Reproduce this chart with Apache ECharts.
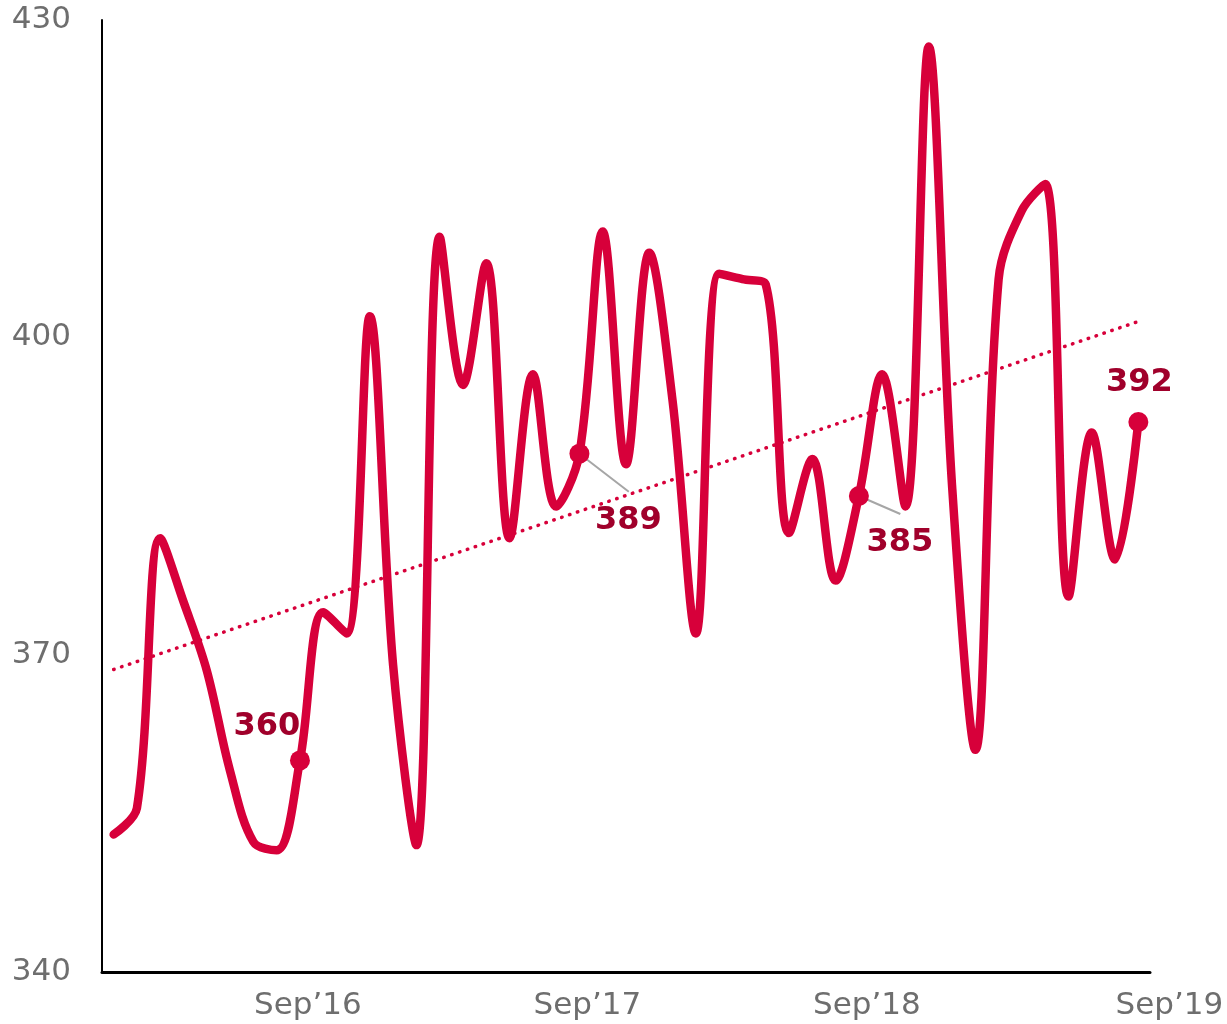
<!DOCTYPE html>
<html>
<head>
<meta charset="utf-8">
<script src="https://cdn.jsdelivr.net/npm/echarts@6/dist/echarts.min.js"></script>
<style>html,body{margin:0;padding:0;background:#fff}#c{width:1227px;height:1024px}</style>
</head>
<body>
<div id="c"></div>
<script>
const categories = [
  'Jan’16','Feb’16','Mar’16','Apr’16','May’16','Jun’16','Jul’16','Aug’16','Sep’16','Oct’16','Nov’16','Dec’16',
  'Jan’17','Feb’17','Mar’17','Apr’17','May’17','Jun’17','Jul’17','Aug’17','Sep’17','Oct’17','Nov’17','Dec’17',
  'Jan’18','Feb’18','Mar’18','Apr’18','May’18','Jun’18','Jul’18','Aug’18','Sep’18','Oct’18','Nov’18','Dec’18',
  'Jan’19','Feb’19','Mar’19','Apr’19','May’19','Jun’19','Jul’19','Aug’19','Sep’19'
];
const values = [
  353, 355.5, 381, 375, 368.5, 359, 352.3, 351.5, 360, 374, 372, 402,
  369, 352, 409.5, 395.5, 407, 381, 396.5, 384, 389, 410, 388, 408,
  394, 372, 406, 405.5, 405, 381.5, 388.5, 377, 385, 396.5, 384, 427.5,
  386, 361, 405.5, 412, 414.5, 375.5, 391, 379, 392
];
const annotatedIdx = [8, 20, 32, 44];
const trendStart = 368.6;
const trendEnd = 401.5;
const yTicks = [340, 370, 400, 430];
// leader lines for the 389 and 385 callouts: [fromIndex, fromValue] -> [toIndex, toValue]
const leaders = [
  [[20, 389], [22.12, 385.4]],
  [[32, 385], [33.78, 383.3]]
];

const LINE = '#D7003A';
const LABEL = '#A0002B';
const GREY = '#6E6E6E';
const FONT = 'DejaVu Sans';

const labelShift = {8: [-33, -34], 20: [49, 67], 32: [41, 47], 44: [1, -39]};

const mainData = values.map((v, i) => {
  if (annotatedIdx.indexOf(i) >= 0) {
    return {value: v, symbol: 'circle', symbolSize: 20, label: {show: true}};
  }
  return v;
});

const leaderData = [];
leaders.forEach((seg, k) => {
  if (k > 0) leaderData.push('-');
  leaderData.push(seg[0], seg[1]);
});

const chart = echarts.init(document.getElementById('c'), null, {renderer: 'canvas'});
chart.setOption({
  animation: false,
  backgroundColor: '#fff',
  grid: {left: 102, right: 77, top: 20, bottom: 52},
  xAxis: [{
    type: 'category',
    data: categories,
    boundaryGap: true,
    axisLine: {show: true, onZero: false, lineStyle: {color: '#000', width: 3}},
    axisTick: {show: false},
    splitLine: {show: false},
    axisLabel: {
      interval: (i, v) => v.indexOf('Sep') === 0,
      margin: 18,
      color: GREY,
      fontFamily: FONT,
      fontSize: 31,
      formatter: v => (v === 'Sep’19' ? '{b|' + v + '}' : '{a|' + v + '}'),
      rich: {
        a: {padding: [0, 0, 0, 16], color: GREY, fontFamily: FONT, fontSize: 31},
        b: {padding: [0, 0, 0, 62], color: GREY, fontFamily: FONT, fontSize: 31}
      }
    }
  }, {
    type: 'value',
    show: false,
    min: -0.5,
    max: categories.length - 0.5
  }],
  yAxis: {
    type: 'value',
    min: yTicks[0],
    max: yTicks[yTicks.length - 1],
    interval: 30,
    axisLine: {show: true, onZero: false, lineStyle: {color: '#000', width: 2}},
    axisTick: {show: false},
    splitLine: {show: false},
    axisLabel: {margin: 31, color: GREY, fontFamily: FONT, fontSize: 31}
  },
  series: [
    {
      name: 'trend',
      type: 'line',
      data: [[0, trendStart], [categories.length - 1, trendEnd]],
      symbol: 'none',
      silent: true,
      lineStyle: {color: LINE, width: 3.5, type: [0.5, 7.8], cap: 'round'},
      z: 1
    },
    {
      name: 'leaders',
      type: 'line',
      xAxisIndex: 1,
      data: leaderData,
      symbol: 'none',
      silent: true,
      lineStyle: {color: '#A6A6A6', width: 2},
      z: 1
    },
    {
      name: 'value',
      type: 'line',
      data: mainData,
      smooth: 0.35,
      symbol: 'none',
      lineStyle: {color: LINE, width: 8.5, cap: 'round', join: 'round'},
      itemStyle: {color: LINE},
      label: {
        show: false,
        position: 'inside',
        color: LABEL,
        fontFamily: FONT,
        fontWeight: 'bold',
        fontSize: 32
      },
      labelLayout: params => {
        const s = labelShift[params.dataIndex];
        return s ? {dx: s[0], dy: s[1]} : {};
      },
      z: 2
    }
  ]
});
</script>
</body>
</html>
